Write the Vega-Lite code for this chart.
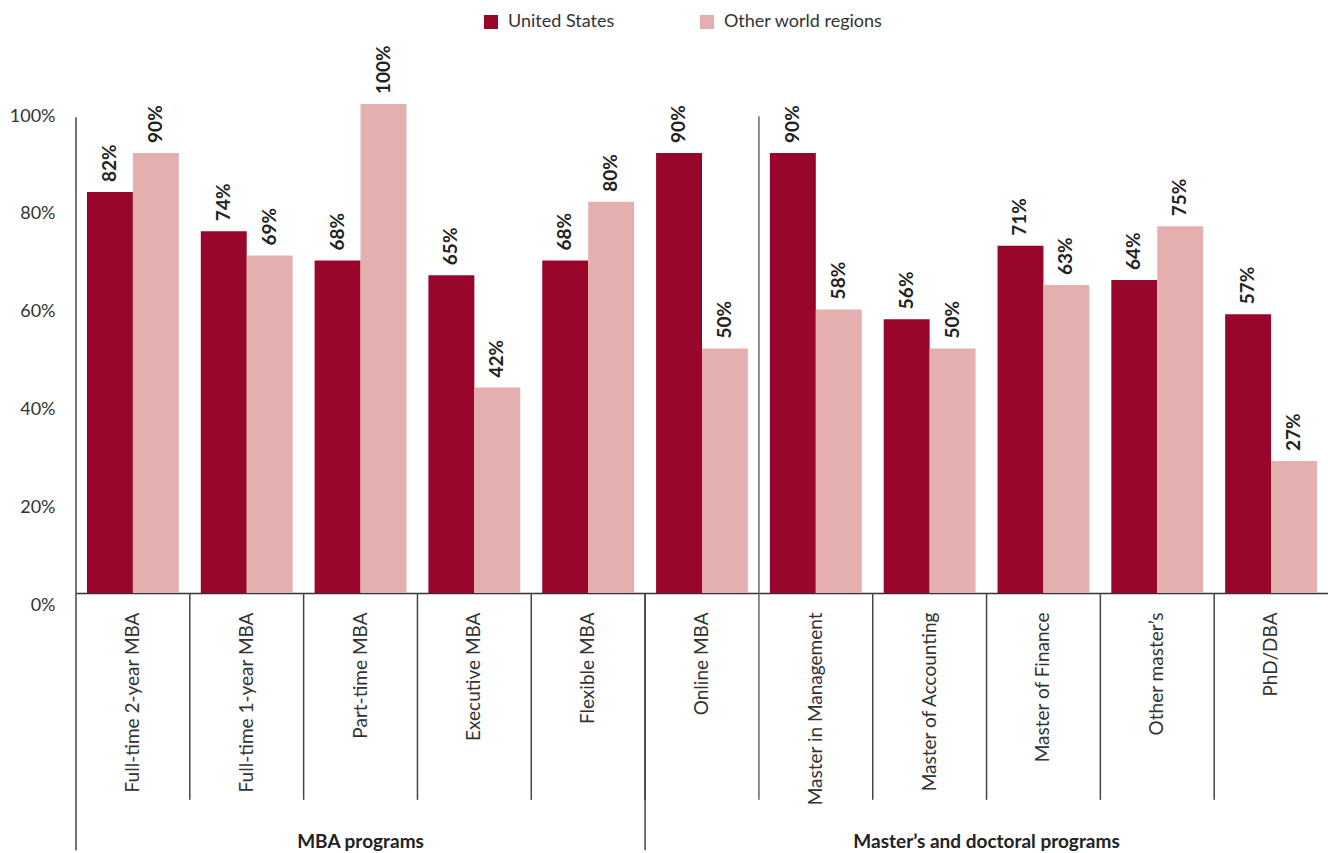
{
  "$schema": "https://vega.github.io/schema/vega-lite/v6.json",
  "width": 1252,
  "height": 489,
  "autosize": {"type": "none"},
  "padding": {"left": 76, "top": 104, "right": 0, "bottom": 260},
  "background": "white",
  "config": {"view": {"stroke": null}, "font": "Lato"},
  "data": {"values": [
    {"program": "Full-time 2-year MBA", "region": "United States", "value": 0.82},
    {"program": "Full-time 2-year MBA", "region": "Other world regions", "value": 0.90},
    {"program": "Full-time 1-year MBA", "region": "United States", "value": 0.74},
    {"program": "Full-time 1-year MBA", "region": "Other world regions", "value": 0.69},
    {"program": "Part-time MBA", "region": "United States", "value": 0.68},
    {"program": "Part-time MBA", "region": "Other world regions", "value": 1.00},
    {"program": "Executive MBA", "region": "United States", "value": 0.65},
    {"program": "Executive MBA", "region": "Other world regions", "value": 0.42},
    {"program": "Flexible MBA", "region": "United States", "value": 0.68},
    {"program": "Flexible MBA", "region": "Other world regions", "value": 0.80},
    {"program": "Online MBA", "region": "United States", "value": 0.90},
    {"program": "Online MBA", "region": "Other world regions", "value": 0.50},
    {"program": "Master in Management", "region": "United States", "value": 0.90},
    {"program": "Master in Management", "region": "Other world regions", "value": 0.58},
    {"program": "Master of Accounting", "region": "United States", "value": 0.56},
    {"program": "Master of Accounting", "region": "Other world regions", "value": 0.50},
    {"program": "Master of Finance", "region": "United States", "value": 0.71},
    {"program": "Master of Finance", "region": "Other world regions", "value": 0.63},
    {"program": "Other master’s", "region": "United States", "value": 0.64},
    {"program": "Other master’s", "region": "Other world regions", "value": 0.75},
    {"program": "PhD/DBA", "region": "United States", "value": 0.57},
    {"program": "PhD/DBA", "region": "Other world regions", "value": 0.27}
  ]},
  "layer": [
    {
      "mark": {"type": "bar"},
      "encoding": {
        "x": {
          "field": "program", "type": "nominal",
          "scale": {
            "domain": ["Full-time 2-year MBA", "Full-time 1-year MBA", "Part-time MBA", "Executive MBA", "Flexible MBA", "Online MBA", "Master in Management", "Master of Accounting", "Master of Finance", "Other master’s", "PhD/DBA"],
            "paddingInner": 0, "paddingOuter": 0
          },
          "axis": {
            "title": null, "orient": "bottom", "ticks": false, "grid": false,
            "domain": true, "domainColor": "#333333", "domainWidth": 1.5,
            "labelAngle": 270, "labelAlign": "right", "labelBaseline": "middle",
            "labelPadding": 19, "labelFontSize": 19, "labelColor": "#333333", "labelLimit": 300
          }
        },
        "xOffset": {
          "field": "region", "type": "nominal",
          "scale": {"domain": ["United States", "Other world regions"], "paddingInner": 0, "paddingOuter": 0.239}
        },
        "y": {
          "field": "value", "type": "quantitative",
          "scale": {"domain": [0, 1], "nice": false},
          "axis": {
            "title": null, "values": [0, 0.2, 0.4, 0.6, 0.8, 1], "format": ".0%",
            "ticks": false, "domain": false, "grid": false,
            "labelPadding": 21, "labelOffset": 12, "labelFontSize": 18, "labelColor": "#333333"
          }
        },
        "color": {
          "field": "region", "type": "nominal",
          "scale": {"domain": ["United States", "Other world regions"], "range": ["#98072B", "#E3AFAF"]},
          "legend": {
            "orient": "none", "legendX": 406, "legendY": -91, "direction": "horizontal",
            "title": null, "symbolType": "square", "symbolSize": 196, "symbolStrokeWidth": 0,
            "labelFontSize": 18, "labelColor": "#333333", "columnPadding": 83, "labelOffset": 8, "padding": 0, "labelLimit": 300
          }
        }
      }
    },
    {
      "mark": {"type": "text", "angle": 270, "align": "left", "baseline": "middle", "dx": 10, "fontSize": 19, "fontWeight": "bold", "color": "#222222"},
      "encoding": {
        "x": {"field": "program", "type": "nominal"},
        "xOffset": {"field": "region", "type": "nominal"},
        "y": {"field": "value", "type": "quantitative"},
        "text": {"field": "value", "type": "quantitative", "format": ".0%"}
      }
    },
    {
      "data": {"values": [
        {"program": "Full-time 1-year MBA"}, {"program": "Part-time MBA"}, {"program": "Executive MBA"},
        {"program": "Flexible MBA"}, {"program": "Online MBA"}, {"program": "Master of Accounting"},
        {"program": "Master of Finance"}, {"program": "Other master’s"}, {"program": "PhD/DBA"}
      ]},
      "mark": {"type": "rule", "color": "#444444", "strokeWidth": 1.5},
      "encoding": {
        "x": {"field": "program", "type": "nominal", "bandPosition": 0},
        "y": {"datum": 0},
        "y2": {"datum": -0.423}
      }
    },
    {
      "data": {"values": [{"program": "Online MBA"}]},
      "mark": {"type": "rule", "color": "#444444", "strokeWidth": 1.5},
      "encoding": {
        "x": {"field": "program", "type": "nominal", "bandPosition": 0},
        "y": {"datum": 0},
        "y2": {"datum": -0.526}
      }
    },
    {
      "data": {"values": [{"program": "Master in Management"}]},
      "mark": {"type": "rule", "color": "#666666", "strokeWidth": 1.5},
      "encoding": {
        "x": {"field": "program", "type": "nominal", "bandPosition": 0},
        "y": {"datum": 0.975},
        "y2": {"datum": -0.423}
      }
    },
    {
      "data": {"values": [{"program": "Full-time 2-year MBA"}]},
      "mark": {"type": "rule", "color": "#444444", "strokeWidth": 1.5},
      "encoding": {
        "x": {"field": "program", "type": "nominal", "bandPosition": 0},
        "y": {"datum": 0.973},
        "y2": {"datum": -0.526}
      }
    },
    {
      "data": {"values": [
        {"program": "Part-time MBA", "group": "MBA programs"}
      ]},
      "mark": {"type": "text", "fontSize": 19, "fontWeight": "bold", "color": "#222222", "baseline": "middle"},
      "encoding": {
        "x": {"field": "program", "type": "nominal", "bandPosition": 0.5},
        "y": {"datum": -0.509},
        "text": {"field": "group"}
      }
    },
    {
      "data": {"values": [
        {"program": "Master of Finance", "group": "Master’s and doctoral programs"}
      ]},
      "mark": {"type": "text", "fontSize": 19, "fontWeight": "bold", "color": "#222222", "baseline": "middle"},
      "encoding": {
        "x": {"field": "program", "type": "nominal", "bandPosition": 0},
        "y": {"datum": -0.509},
        "text": {"field": "group"}
      }
    }
  ]
}
